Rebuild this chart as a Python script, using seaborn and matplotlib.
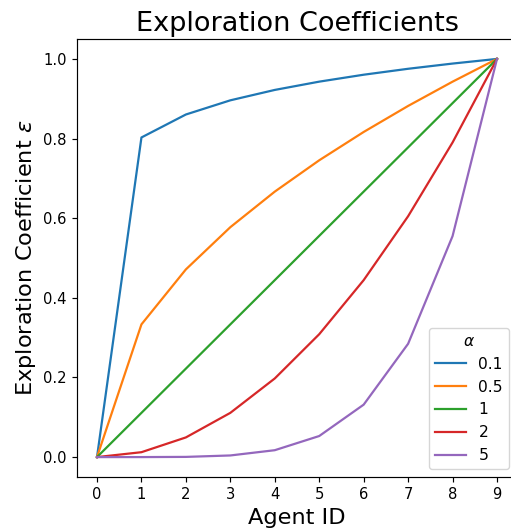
import matplotlib
matplotlib.use("Agg")
import matplotlib.pyplot as plt
import seaborn as sns
import pandas as pd

agent_ids = [0, 1, 2, 3, 4, 5, 6, 7, 8, 9]
alphas = ["0.1", "0.5", "1", "2", "5"]
eps_01 = [0.0, 0.8027, 0.8604, 0.8960, 0.9221, 0.9429, 0.9603, 0.9752, 0.9883, 1.0]
eps_05 = [0.0, 0.3333, 0.4714, 0.5774, 0.6667, 0.7454, 0.8165, 0.8819, 0.9428, 1.0]
eps_1 = [0.0, 0.1111, 0.2222, 0.3333, 0.4444, 0.5556, 0.6667, 0.7778, 0.8889, 1.0]
eps_2 = [0.0, 0.0123, 0.0494, 0.1111, 0.1975, 0.3086, 0.4444, 0.6049, 0.7901, 1.0]
eps_5 = [0.0, 0.00002, 0.0005, 0.0041, 0.0173, 0.0529, 0.1317, 0.2846, 0.5549, 1.0]

series = [eps_01, eps_05, eps_1, eps_2, eps_5]
rows = []
for a, vals in zip(alphas, series):
    for i, v in zip(agent_ids, vals):
        rows.append({"Agent ID": i, "eps": v, "alpha": a})
df = pd.DataFrame(rows)

fig = plt.figure(figsize=(5.11, 5.31), dpi=100)
ax = fig.add_axes([77 / 511, 54 / 531, 440 / 511, 438 / 531])
sns.lineplot(data=df, x="Agent ID", y="eps", hue="alpha", hue_order=alphas,
             palette=sns.color_palette("tab10", 5), linewidth=1.6, ax=ax)
ax.set_xticks(agent_ids)
ax.tick_params(labelsize=10.6, length=3.8, width=0.85)
for s in ax.spines.values():
    s.set_linewidth(0.85)
ax.set_title("Exploration Coefficients", fontsize=19.5)
ax.set_xlabel("Agent ID", fontsize=16.2)
ax.set_ylabel(r"Exploration Coefficient $\varepsilon$", fontsize=16.2)
leg = ax.legend(title=r"$\alpha$", loc="lower right", fontsize=11.2, title_fontsize=11.2)
fig.savefig("out.png", dpi=100)
